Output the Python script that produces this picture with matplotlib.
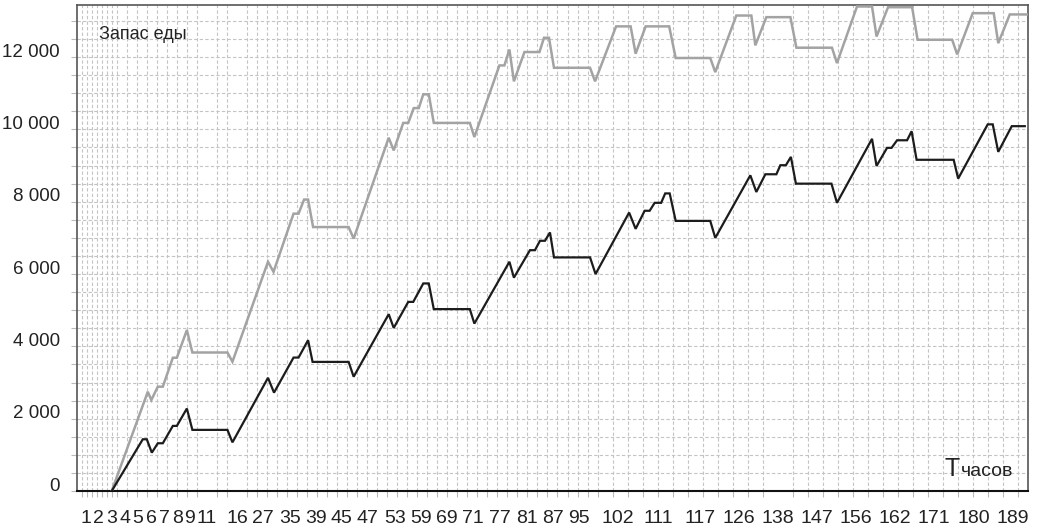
import numpy as np
import matplotlib
matplotlib.use("Agg")
import matplotlib.pyplot as plt
import matplotlib.ticker as ticker
import matplotlib.transforms as mtransforms

black_t = [7, 13.2, 14, 15, 16.2, 17.2, 19.2, 20, 22, 23.1, 30.1, 31.1, 38.2, 39.4, 43.3, 44.3,
           46.2, 47.1, 54.3, 55.3, 62.3, 63.3, 66.2, 67.2, 69.2, 70.3, 71.3, 78.5, 79.4, 86.4,
           87.3, 90.5, 91.5, 92.5, 93.5, 94.5, 95.3, 102.5, 103.6, 110.3, 111.6, 113.4, 114.4,
           115.4, 116.7, 117.5, 118.4, 119.6, 126.5, 127.5, 134.5, 135.7, 137.5, 139.7, 140.5,
           141.6, 142.6, 143.6, 150.7, 151.8, 158.8, 159.7, 161.8, 162.7, 163.8, 165.8, 166.7,
           167.7, 175.1, 176.0, 181.9, 182.9, 184.0, 186.7, 189.3]
black_v = [0, 1430, 1430, 1060, 1320, 1320, 1800, 1800, 2280, 1690, 1690, 1345, 3130, 2720,
           3690, 3690, 4170, 3570, 3570, 3160, 4890, 4510, 5230, 5230, 5740, 5740, 5030, 5030,
           4630, 6340, 5900, 6660, 6660, 6920, 6920, 7150, 6460, 6460, 6000, 7700, 7250, 7750,
           7750, 7970, 7970, 8230, 8230, 7470, 7470, 7000, 8730, 8270, 8760, 8760, 9010, 9010,
           9240, 8500, 8500, 7970, 9740, 8990, 9490, 9490, 9700, 9700, 9950, 9160, 9160, 8640,
           10140, 10140, 9380, 10090, 10090]

gray_t = [7, 14.2, 14.9, 16.2, 17.2, 19.2, 20, 22, 23.1, 30.1, 31.1, 38.2, 39.3, 43.3, 44.3,
          45.4, 46.2, 47.2, 54.3, 55.3, 62.3, 63.3, 65.2, 66.2, 67.3, 68.3, 69.2, 70.3, 71.3,
          78.5, 79.4, 84.4, 85.4, 86.4, 87.3, 89.4, 92.4, 93.3, 94.3, 95.3, 102.5, 103.5, 107.7,
          110.6, 111.6, 113.6, 118.3, 119.6, 126.5, 127.5, 131.7, 134.7, 135.5, 137.7, 142.5,
          143.7, 150.8, 151.8, 155.8, 158.8, 159.7, 162.0, 166.8, 167.9, 174.8, 175.8, 178.9,
          183.1, 184.0, 186.3, 190]
gray_v = [0, 2745, 2515, 2885, 2885, 3685, 3685, 4450, 3830, 3830, 3575, 6340, 6060, 7670,
          7670, 8060, 8060, 7300, 7300, 6980, 9770, 9420, 10180, 10180, 10590, 10590, 10970,
          10970, 10180, 10180, 9790, 11770, 11770, 12210, 11330, 12140, 12140, 12535, 12535,
          11705, 11705, 11330, 12850, 12850, 12095, 12850, 12850, 11975, 11975, 11585, 13150,
          13150, 12325, 13105, 13105, 12260, 12260, 11835, 13400, 13400, 12570, 13380, 13380,
          12480, 12480, 12075, 13215, 13215, 12385, 13180, 13180]

hour_labels = ["1", "2", "3", "4", "5", "6", "7", "8", "9", "11", "16", "27", "35", "39", "45",
               "47", "53", "59", "69", "71", "77", "81", "87", "95", "102", "111", "117", "126",
               "138", "147", "156", "162", "171", "180", "189"]
# where each hour label sits on the slot axis
label_pos = [1.8, 4.4, 7.05, 9.6, 12.2, 15.0, 17.6, 20.2, 22.6, 26.0, 32.0, 37.2, 42.6, 47.8,
             52.9, 58.1, 63.5, 68.7, 73.9, 79.1, 84.5, 89.9, 95.1, 100.3, 108.0, 116.2, 124.4,
             132.2, 140.0, 147.8, 155.6, 163.3, 171.1, 179.1, 186.9]

plt.rcParams['font.family'] = ['Liberation Sans Narrow', 'Liberation Sans', 'DejaVu Sans']
plt.rcParams['font.stretch'] = 'condensed'

fig = plt.figure(figsize=(10.39, 5.32), dpi=100)
ax = fig.add_axes([0.0738, 0.0771, 0.9159, 0.9141])

ax.plot(gray_t, gray_v, color='#a3a3a3', lw=1.8, solid_joinstyle='miter', zorder=3)
ax.plot(black_t, black_v, color='#1c1c1c', lw=1.6, solid_joinstyle='miter', zorder=4)

ax.set_xlim(0, 190)
ax.set_ylim(0, 13450)

# background grid: dense at the start, sparser later
grid_x = np.concatenate([np.arange(1, 9), np.arange(10, 105, 2), np.arange(107, 190, 3)])
ax.xaxis.set_minor_locator(ticker.FixedLocator(grid_x))
ax.set_xticks(label_pos)
ax.set_xticklabels(hour_labels)
ax.yaxis.set_major_locator(ticker.MultipleLocator(2000))
ax.yaxis.set_minor_locator(ticker.MultipleLocator(500))
ax.yaxis.set_major_formatter(ticker.FuncFormatter(lambda v, p: f"{int(v):,}".replace(",", " ")))

ax.grid(which='minor', axis='x', color='#c4c4c4', lw=0.8, ls=(0, (3, 2)))
ax.grid(which='both', axis='y', color='#c4c4c4', lw=0.8, ls=(0, (3, 2)))
ax.set_axisbelow(True)

ax.tick_params(axis='x', which='major', length=0, pad=14, labelsize=14, colors='#222222')
ax.tick_params(axis='x', which='minor', length=4, width=0.8, color='#bbbbbb')
ax.tick_params(axis='y', which='major', length=4, width=0.8, color='#bbbbbb', pad=8,
               labelsize=13.5, labelcolor='#222222')
ax.tick_params(axis='y', which='minor', length=4, width=0.8, color='#bbbbbb')

# y labels sit a little above their grid lines
shift = mtransforms.ScaledTranslation(0, 5 / 72, fig.dpi_scale_trans)
for lab in ax.get_yticklabels():
    lab.set_transform(lab.get_transform() + shift)

for s in ['left', 'right', 'top']:
    ax.spines[s].set_color('#555555')
    ax.spines[s].set_linewidth(1.2)
ax.spines['bottom'].set_color('#111111')
ax.spines['bottom'].set_linewidth(1.5)

ax.text(0.0237, 0.9295, "Запас еды", transform=ax.transAxes, fontsize=13,
        va='baseline', ha='left', color='#222222')
ax.text(0.912, 0.031, "T", transform=ax.transAxes, fontsize=18,
        va='baseline', ha='left', color='#222222')
ax.text(0.929, 0.031, "часов", transform=ax.transAxes, fontsize=14,
        va='baseline', ha='left', color='#222222')

fig.savefig("out.png", dpi=100)
